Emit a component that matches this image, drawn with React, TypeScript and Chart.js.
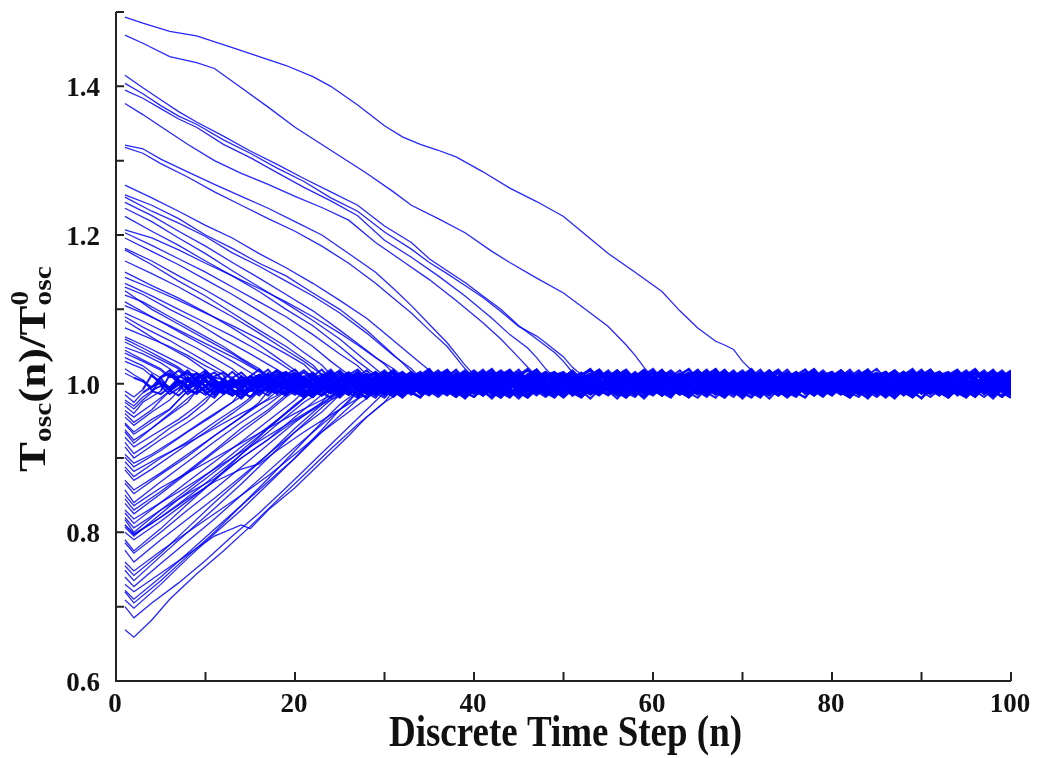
import React, { useEffect, useRef } from "react";
import { Chart, registerables } from "chart.js";
Chart.register(...registerables);

// ---- axis ticks / labels ----
const X_TICKS = [0, 10, 20, 30, 40, 50, 60, 70, 80, 90, 100];
const X_TICK_LABELS = ["0", "", "20", "", "40", "", "60", "", "80", "", "100"];
const Y_TICKS = [0.6, 0.7, 0.8, 0.9, 1.0, 1.1, 1.2, 1.3, 1.4, 1.5];
const Y_TICK_LABELS = ["0.6", "", "0.8", "", "1.0", "", "1.2", "", "1.4", ""];
const X_TITLE = "Discrete Time Step (n)";

// ---- trajectories starting above 1 (key points [n, value]) ----
const UPPER_PATHS: number[][][] = [
  [[1,1.493],[3,1.485],[6,1.474],[9,1.468],[13,1.452],[16,1.44],[19,1.428],[22,1.413],[24,1.40],[27,1.375],[30,1.347],[32,1.332],[34,1.322],[36,1.314],[38,1.305],[41,1.285],[44,1.263],[47,1.245],[50,1.225],[53,1.195],[55,1.175],[58,1.15],[61,1.124],[63,1.098],[65,1.075],[67,1.057],[68,1.052],[69,1.046],[70,1.03],[71,1.018],[72,1.008]],
  [[1,1.469],[3,1.458],[6,1.44],[9,1.432],[11,1.424],[14,1.398],[17,1.372],[20,1.345],[24,1.314],[28,1.283],[31,1.258],[33,1.24],[36,1.222],[39,1.203],[42,1.178],[44,1.163],[47,1.142],[50,1.122],[53,1.095],[55,1.077],[57,1.052],[58,1.038],[59,1.022],[60,1.008]],
  [[1,1.415],[3,1.398],[5,1.382],[7,1.366],[9,1.352],[12,1.333],[15,1.313],[18,1.295],[21,1.276],[24,1.258],[27,1.24],[30,1.212],[33,1.19],[35,1.168],[37,1.152],[39,1.136],[41,1.118],[43,1.1],[45,1.078],[47,1.06],[49,1.042],[50,1.03],[51,1.015],[52,1.006]],
  [[1,1.404],[3,1.39],[5,1.374],[7,1.36],[9,1.349],[12,1.328],[15,1.31],[18,1.29],[21,1.272],[24,1.25],[27,1.232],[30,1.204],[33,1.181],[35,1.163],[37,1.148],[39,1.132],[41,1.116],[43,1.097],[45,1.077],[47,1.064],[48,1.055],[50,1.036],[51,1.022],[52,1.012],[53,1.004]],
  [[1,1.395],[3,1.384],[5,1.37],[7,1.356],[9,1.345],[12,1.322],[15,1.304],[18,1.284],[21,1.264],[24,1.246],[27,1.226],[30,1.193],[33,1.17],[36,1.145],[39,1.118],[42,1.088],[44,1.066],[46,1.048],[47,1.035],[48,1.02],[49,1.008]],
  [[1,1.377],[3,1.362],[5,1.346],[8,1.322],[11,1.3],[14,1.283],[17,1.268],[20,1.252],[23,1.237],[26,1.22],[29,1.19],[32,1.165],[35,1.14],[38,1.112],[41,1.082],[43,1.06],[45,1.035],[46,1.022],[47,1.01]],
  [[1,1.321],[3,1.316],[5,1.302],[8,1.285],[11,1.268],[14,1.252],[17,1.236],[20,1.218],[23,1.2],[26,1.175],[29,1.15],[31,1.128],[33,1.105],[35,1.08],[37,1.055],[38,1.04],[39,1.025],[40,1.012],[41,1.004]],
  [[1,1.318],[3,1.31],[5,1.296],[8,1.278],[11,1.258],[14,1.24],[17,1.222],[20,1.205],[23,1.185],[26,1.162],[29,1.135],[31,1.115],[33,1.095],[35,1.072],[37,1.05],[38,1.035],[39,1.02],[40,1.008]],
  [[1,1.267],[4,1.25],[7,1.232],[10,1.213],[13,1.196],[16,1.175],[19,1.156],[22,1.135],[25,1.112],[28,1.088],[31,1.058],[33,1.038],[35,1.018],[36,1.008]],
  [[1,1.254],[4,1.24],[7,1.222],[10,1.2],[13,1.182],[16,1.162],[19,1.145],[22,1.122],[25,1.1],[28,1.072],[30,1.05],[32,1.028],[33,1.016],[34,1.006]],
  [[1,1.251],[4,1.232],[7,1.216],[10,1.198],[13,1.176],[16,1.158],[19,1.138],[22,1.118],[25,1.095],[28,1.068],[31,1.038],[33,1.02],[34,1.008]],
  [[1,1.244],[4,1.226],[7,1.205],[10,1.185],[13,1.163],[16,1.142],[19,1.12],[22,1.098],[25,1.072],[28,1.045],[30,1.026],[31,1.014],[32,1.005]],
  [[1,1.236],[4,1.218],[7,1.196],[10,1.175],[13,1.152],[16,1.13],[19,1.108],[22,1.085],[25,1.06],[27,1.04],[29,1.02],[30,1.01]],
  [[1,1.207],[4,1.196],[7,1.18],[10,1.162],[13,1.145],[16,1.128],[19,1.11],[22,1.09],[25,1.068],[27,1.052],[29,1.035],[31,1.02],[32,1.01]],
  [[1,1.203],[4,1.186],[7,1.168],[10,1.15],[13,1.13],[16,1.11],[19,1.09],[22,1.066],[25,1.04],[27,1.024],[28,1.012]],
  [[1,1.196],[4,1.178],[7,1.16],[10,1.14],[13,1.12],[16,1.098],[19,1.075],[22,1.05],[24,1.03],[26,1.012]],
  [[1,1.182],[4,1.165],[7,1.145],[10,1.126],[13,1.105],[16,1.084],[19,1.06],[21,1.042],[23,1.025],[24,1.012]],
  [[1,1.143],[4,1.128],[7,1.112],[10,1.095],[13,1.078],[16,1.06],[19,1.04],[21,1.026],[22,1.014]],
  [[1,1.135],[4,1.118],[7,1.1],[10,1.082],[13,1.064],[16,1.044],[18,1.03],[20,1.014]],
  [[1,1.13],[3,1.12],[6,1.1],[9,1.082],[12,1.06],[15,1.04],[17,1.026],[19,1.012]],
  [[1,1.119],[3,1.11],[6,1.09],[9,1.07],[12,1.05],[14,1.034],[16,1.02],[17,1.01]],
  [[1,1.095],[3,1.084],[6,1.066],[9,1.048],[11,1.034],[13,1.02],[14,1.01]],
  [[1,1.09],[3,1.076],[6,1.058],[8,1.044],[10,1.03],[12,1.016],[13,1.008]],
  [[1,1.063],[3,1.052],[5,1.04],[7,1.028],[9,1.015],[10,1.008]],
  [[1,1.056],[3,1.044],[5,1.032],[7,1.02],[8,1.01]],
  [[1,1.049],[3,1.04],[5,1.028],[6,1.02],[7,1.01]],
  [[1,1.041],[3,1.03],[5,1.018],[6,1.008]],
  [[1,1.014],[2,1.008]],
  [[1,1.105],[3,1.095],[6,1.078],[9,1.06],[12,1.042],[14,1.03],[16,1.016],[17,1.008]],
  [[1,1.075],[3,1.065],[6,1.05],[8,1.038],[10,1.024],[12,1.012]],
  [[1,1.03],[3,1.02],[4,1.01]],
  [[1,1.165],[4,1.148],[7,1.13],[10,1.11],[13,1.09],[16,1.068],[19,1.045],[21,1.03],[23,1.012]],
  [[1,1.225],[4,1.205],[7,1.186],[10,1.165],[13,1.145],[16,1.124],[19,1.1],[22,1.078],[25,1.05],[27,1.03],[29,1.012]],
  [[1,1.085],[3,1.07],[5,1.055],[8,1.035],[10,1.018],[11,1.008]],
  [[1,1.125],[4,1.1],[7,1.08],[10,1.06],[13,1.04],[15,1.025],[17,1.01]],
  [[1,1.045],[3,1.032],[5,1.02],[6,1.01]],
  [[1,1.02],[2,1.012],[3,1.005]],
  [[1,1.18],[4,1.16],[7,1.138],[10,1.118],[13,1.095],[16,1.072],[19,1.05],[22,1.025],[23,1.012]],
  [[1,1.06],[3,1.048],[5,1.035],[7,1.022],[8,1.012]],
  [[1,1.11],[4,1.09],[7,1.07],[10,1.05],[13,1.03],[15,1.015],[16,1.008]],
  [[1,1.15],[4,1.132],[7,1.115],[10,1.096],[13,1.075],[16,1.052],[18,1.035],[20,1.018],[21,1.008]],
  [[1,1.035],[3,1.024],[4,1.015],[5,1.008]],
];

// ---- trajectories starting below 1 ----
const LOWER_PATHS: number[][][] = [
  [[1,0.978],[2,0.97],[3,0.982],[4,0.99]],
  [[1,0.964],[2,0.955],[4,0.972],[6,0.99]],
  [[1,0.955],[2,0.944],[4,0.962],[6,0.978],[7,0.99]],
  [[1,0.947],[2,0.935],[4,0.952],[6,0.966],[8,0.99]],
  [[1,0.938],[2,0.924],[4,0.94],[6,0.958],[8,0.975],[9,0.99]],
  [[1,0.928],[2,0.915],[4,0.93],[7,0.952],[9,0.97],[11,0.99]],
  [[1,0.921],[2,0.906],[4,0.922],[6,0.94],[8,0.955],[10,0.975],[11,0.99]],
  [[1,0.915],[2,0.9],[5,0.925],[8,0.948],[10,0.965],[12,0.985]],
  [[1,0.901],[2,0.888],[5,0.91],[8,0.935],[11,0.958],[13,0.975],[14,0.99]],
  [[1,0.888],[2,0.875],[5,0.9],[8,0.922],[11,0.948],[14,0.972],[16,0.99]],
  [[1,0.884],[2,0.87],[4,0.885],[7,0.91],[10,0.935],[13,0.96],[15,0.978],[16,0.99]],
  [[1,0.866],[2,0.852],[5,0.878],[8,0.902],[11,0.93],[14,0.955],[17,0.98],[18,0.99]],
  [[1,0.857],[2,0.84],[5,0.868],[8,0.895],[11,0.922],[14,0.948],[17,0.972],[19,0.99]],
  [[1,0.839],[2,0.825],[5,0.852],[8,0.88],[11,0.908],[14,0.935],[17,0.962],[19,0.982],[20,0.99]],
  [[1,0.826],[2,0.812],[5,0.84],[8,0.868],[11,0.895],[14,0.922],[17,0.95],[20,0.978],[21,0.99]],
  [[1,0.817],[2,0.8],[5,0.83],[8,0.858],[11,0.886],[14,0.915],[17,0.942],[20,0.97],[22,0.99]],
  [[1,0.807],[2,0.795],[4,0.815],[7,0.845],[10,0.872],[13,0.9],[16,0.93],[19,0.96],[21,0.98],[22,0.99]],
  [[1,0.8],[2,0.79],[5,0.815],[8,0.842],[11,0.87],[14,0.9],[17,0.925],[20,0.955],[23,0.985],[24,0.992]],
  [[1,0.786],[2,0.772],[5,0.8],[8,0.83],[11,0.858],[14,0.888],[17,0.918],[20,0.948],[23,0.975],[24,0.99]],
  [[1,0.776],[2,0.76],[5,0.79],[8,0.818],[11,0.846],[14,0.875],[17,0.905],[20,0.935],[23,0.962],[25,0.985]],
  [[1,0.749],[2,0.735],[5,0.768],[8,0.8],[11,0.832],[14,0.865],[17,0.9],[20,0.935],[23,0.968],[25,0.988]],
  [[1,0.74],[2,0.727],[5,0.758],[8,0.788],[11,0.818],[14,0.85],[17,0.882],[20,0.914],[23,0.945],[26,0.975],[27,0.99]],
  [[1,0.722],[2,0.71],[5,0.74],[8,0.772],[11,0.804],[14,0.836],[17,0.868],[20,0.9],[23,0.935],[26,0.968],[28,0.99]],
  [[1,0.709],[2,0.698],[5,0.73],[8,0.765],[11,0.798],[14,0.83],[17,0.865],[20,0.9],[23,0.938],[25,0.965],[27,0.99]],
  [[1,0.7],[2,0.685],[4,0.705],[7,0.732],[10,0.762],[13,0.795],[16,0.826],[19,0.86],[22,0.895],[25,0.93],[28,0.965],[30,0.988]],
  [[1,0.669],[2,0.659],[4,0.682],[6,0.71],[9,0.744],[12,0.775],[15,0.808],[18,0.843],[21,0.877],[24,0.912],[27,0.945],[30,0.975],[32,0.99]],
  [[1,0.895],[2,0.882],[5,0.902],[8,0.92],[11,0.94],[14,0.96],[17,0.978],[19,0.99]],
  [[1,0.85],[2,0.836],[5,0.86],[8,0.88],[11,0.9],[14,0.92],[17,0.94],[20,0.96],[23,0.978],[25,0.99]],
  [[1,0.81],[2,0.798],[5,0.82],[8,0.845],[11,0.868],[14,0.885],[16,0.892],[18,0.91],[21,0.935],[24,0.958],[27,0.98],[29,0.99]],
  [[1,0.73],[2,0.72],[5,0.745],[8,0.77],[11,0.795],[14,0.81],[15,0.805],[17,0.83],[20,0.86],[23,0.895],[26,0.93],[28,0.955],[30,0.975],[31,0.99]],
  [[1,0.76],[2,0.748],[5,0.775],[8,0.8],[11,0.825],[14,0.85],[17,0.876],[20,0.905],[23,0.935],[26,0.962],[28,0.98],[29,0.99]],
  [[1,0.83],[2,0.818],[5,0.84],[8,0.862],[11,0.885],[14,0.908],[17,0.93],[20,0.952],[23,0.974],[25,0.99]],
  [[1,0.97],[2,0.96],[3,0.975],[5,0.99]],
  [[1,0.935],[2,0.92],[4,0.94],[6,0.96],[8,0.98],[9,0.99]],
  [[1,0.79],[2,0.775],[5,0.805],[8,0.838],[11,0.87],[14,0.905],[17,0.94],[20,0.972],[22,0.99]],
  [[1,0.72],[2,0.705],[5,0.735],[8,0.768],[11,0.8],[14,0.836],[17,0.872],[20,0.91],[23,0.948],[25,0.972],[27,0.99]],
  [[1,0.99],[2,0.982],[3,0.992]],
  [[1,0.985],[2,0.975],[3,0.988]],
  [[1,0.96],[2,0.948],[4,0.965],[5,0.978],[6,0.99]],
  [[1,0.905],[2,0.893],[4,0.905],[7,0.928],[10,0.952],[13,0.975],[15,0.99]],
  [[1,0.82],[2,0.806],[5,0.83],[8,0.852],[11,0.872],[14,0.9],[17,0.925],[20,0.95],[23,0.972],[26,0.99]],
  [[1,0.81],[2,0.797],[4,0.812],[7,0.838],[10,0.866],[13,0.895],[16,0.925],[19,0.955],[21,0.975],[23,0.99]],
  [[1,0.975],[2,0.966],[3,0.978],[4,0.988]],
  [[1,0.945],[2,0.932],[4,0.948],[6,0.965],[7,0.978],[8,0.99]],
  [[1,0.87],[2,0.857],[5,0.88],[8,0.905],[11,0.93],[14,0.955],[16,0.975],[17,0.99]],
  [[1,0.845],[2,0.83],[5,0.855],[8,0.882],[11,0.91],[14,0.94],[17,0.965],[19,0.985]],
  [[1,0.755],[2,0.742],[5,0.772],[8,0.806],[11,0.84],[14,0.872],[17,0.905],[20,0.94],[23,0.972],[25,0.99]],
];

// ---- fluctuation around 1 after convergence (thousandths) ----
const NOISE_0 = [4,-3,6,10,1,-5,-9,-4,3,8,-1,5,14,6,-4,0,-8,-15,-6,3,-3,9,4,12,1,-6,3,-10,-19,-8,5,-1,8,15,5,-4,0,-9,-3,6,-1,10,3,-5,-13,-4,5,0,12,20,6,-4,3,-6,-12,-1,6,-5,9,1,-6];
const NOISE_1 = [-6,1,-4,5,12,3,8,-3,-9,-1,-14,-5,3,-4,6,16,5,9,0,-8,4,-5,-12,-1,6,-3,10,18,6,-1,4,-8,-16,-5,-10,1,8,-3,5,13,3,-6,1,-10,-20,-8,3,-4,8,14,4,-5,0,-9,-3,6,-1,10,1];
const NOISE_2 = [9,0,5,-4,-10,-1,-8,3,-1,10,18,6,-4,3,-6,-14,-5,4,-3,8,13,4,-5,1,-10,-18,-6,4,-3,6,12,1,8,-3,-9,0,-13,-4,5,-1,10,19,5,-4,1,-8,-15,-3,4,-5,8,12,3,-6,3,-10,-3,6,-4,9,15,4,-6,0,-12,-5,3];
const NOISE_3 = [-4,5,13,3,8,-3,-9,-1,-12,-5,4,-3,9,16,6,-5,1,-10,-18,-8,3,-4,6,14,4,-6,0,-9,-3,8,-1,10,4,-8,-15,-5,3,-5,9,18,5,-3,3,-12,-6,4,-1,10,1,-9,-16,-4,6];
const NOISE_4 = [6,14,4,-3,3,-8,-14,-4,1,-6,5,12,3,9,-5,-12,-1,-16,-8,4,-3,9,18,6,-1,5,-10,-3,-13,-5,3,-4,8,14,3,-8,0,-12,-19,-5,5,-3,10,4,13,-1,-9,-3,-14,-6,3,-1,9,15,5,-5,1,-10,-4,6,0,12,3,-8,-15,-4,5,-6,9,15,5];
const NOISE_5 = [-9,-3,-13,-5,4,-1,8,15,5,10,-4,-9,1,-6,-15,-5,3,-3,9,16,6,0,5,-6,-12,-3,-16,-6,3,-4,10,4,14,-1,-8,1,-10,-18,-5,5,-1,12,19,6,-4,3,-10,-4,-14,-5,5,-1,9,13,3,-8,0];
const NOISE_6 = [3,-5,-12,-3,-9,5,0,10,16,5,12,-1,-8,4,-6,-14,-4,3,-5,8,15,4,-4,1,-10,-16,-5,4,-3,10,5,13,0,-8,1,-12,-19,-6,3,-1,9,16,6,-4,3,-10,-5,-13,-3,5,0,10,18,8,-3,4,-8,-15,-5,1,-6,8,13];
const NOISE_7 = [13,4,-4,1,-9,-16,-5,4,-3,10,15,5,-4,3,-10,-5,-14,-1,6,0,10,19,5,-6,1,-12,-18,-4,5,-3,8,3,13,-1,-8,4,-8,-15,-4,5,-1,12,16,4,-5,1,-10,-3,8];
const NOISES = [NOISE_0, NOISE_1, NOISE_2, NOISE_3, NOISE_4, NOISE_5, NOISE_6, NOISE_7];

const LINE_COLOR = "rgba(0,0,255,0.85)";
const TAIL_COLOR = "rgba(0,0,255,0.9)";

function buildTail(path: number[][], noise: number[], off: number) {
  const lastPt = path[path.length - 1];
  const pts = [{ x: lastPt[0], y: lastPt[1] }];
  for (let n = Math.floor(lastPt[0]) + 1; n <= 100; n++) {
    pts.push({ x: n, y: 1 + noise[(n + off) % noise.length] / 1000 });
  }
  return pts;
}

const SERIF = '"Liberation Serif", "Times New Roman", serif';

const axesPlugin = {
  id: "axesPlugin",
  afterDraw(chart: any) {
    const { ctx, chartArea } = chart;
    const xs = chart.scales.x;
    const ys = chart.scales.y;
    const L = chartArea.left, B = chartArea.bottom, R = chartArea.right, T = chartArea.top;
    ctx.save();
    ctx.strokeStyle = "#222";
    ctx.lineWidth = 2;
    ctx.beginPath();
    ctx.moveTo(L, T);
    ctx.lineTo(L, B);
    ctx.lineTo(R, B);
    ctx.stroke();
    ctx.beginPath();
    X_TICKS.forEach((v) => {
      const px = xs.getPixelForValue(v);
      ctx.moveTo(px, B);
      ctx.lineTo(px, B - 9);
    });
    Y_TICKS.forEach((v) => {
      const py = ys.getPixelForValue(v);
      ctx.moveTo(L, py);
      ctx.lineTo(L + 8, py);
    });
    ctx.stroke();
    ctx.fillStyle = "#111";
    ctx.font = `bold 27px ${SERIF}`;
    ctx.textBaseline = "alphabetic";
    ctx.textAlign = "center";
    X_TICKS.forEach((v, i) => {
      if (X_TICK_LABELS[i]) ctx.fillText(X_TICK_LABELS[i], xs.getPixelForValue(v) - 1, 712);
    });
    ctx.textAlign = "right";
    Y_TICKS.forEach((v, i) => {
      if (Y_TICK_LABELS[i]) ctx.fillText(Y_TICK_LABELS[i], 100, ys.getPixelForValue(v) + 10);
    });
    ctx.save();
    ctx.textAlign = "center";
    ctx.font = `bold 37px ${SERIF}`;
    ctx.translate((L + R) / 2 + 2, 746);
    ctx.scale(1, 1.18);
    ctx.fillText(X_TITLE, 0, 0);
    ctx.restore();
    ctx.save();
    ctx.translate(45, 472);
    ctx.rotate(-Math.PI / 2);
    ctx.scale(1.18, 1);
    ctx.textAlign = "left";
    const big = `bold 38px ${SERIF}`;
    const small = `bold 25px ${SERIF}`;
    let x = 0;
    ctx.font = big;
    ctx.fillText("T", x, 0);
    x += ctx.measureText("T").width;
    ctx.font = small;
    ctx.fillText("osc", x, 6);
    x += ctx.measureText("osc").width;
    ctx.font = big;
    ctx.fillText("(n)/T", x, 0);
    x += ctx.measureText("(n)/T").width;
    ctx.font = small;
    ctx.fillText("0", x, -17);
    ctx.fillText("osc", x, 6);
    ctx.restore();
    ctx.restore();
  },
};

export default function App() {
  const ref = useRef<HTMLCanvasElement | null>(null);
  useEffect(() => {
    if (!ref.current) return;
    const all = UPPER_PATHS.concat(LOWER_PATHS);
    const datasets: any[] = [];
    all.forEach((p, i) => {
      const noise = NOISES[i % NOISES.length];
      datasets.push({
        data: p.map(([x, y]) => ({ x, y })),
        borderColor: LINE_COLOR,
        borderWidth: 1.3,
        pointRadius: 0,
        fill: false,
        tension: 0,
      });
      datasets.push({
        data: buildTail(p, noise, (i * 13) % noise.length),
        borderColor: TAIL_COLOR,
        borderWidth: 2,
        pointRadius: 0,
        fill: false,
        tension: 0,
      });
    });
    const chart = new Chart(ref.current, {
      type: "line",
      data: { datasets },
      options: {
        animation: false,
        responsive: false,
        devicePixelRatio: 1,
        events: [],
        layout: { padding: { left: 0, right: 32, top: 12, bottom: 0 } },
        plugins: { legend: { display: false }, tooltip: { enabled: false } },
        scales: {
          x: {
            type: "linear",
            min: 0,
            max: 100,
            grid: { display: false, drawTicks: false },
            border: { display: false },
            ticks: { display: false },
            afterFit: (s: any) => { s.height = 77; },
          },
          y: {
            type: "linear",
            min: 0.6,
            max: 1.5,
            grid: { display: false, drawTicks: false },
            border: { display: false },
            ticks: { display: false },
            afterFit: (s: any) => { s.width = 116; },
          },
        },
      },
      plugins: [axesPlugin],
    } as any);
    return () => chart.destroy();
  }, []);
  return (
    <div style={{ position: "fixed", left: 0, top: 0, width: 1043, height: 758, background: "#fff" }}>
      <canvas ref={ref} width={1043} height={758} style={{ display: "block" }} />
    </div>
  );
}
